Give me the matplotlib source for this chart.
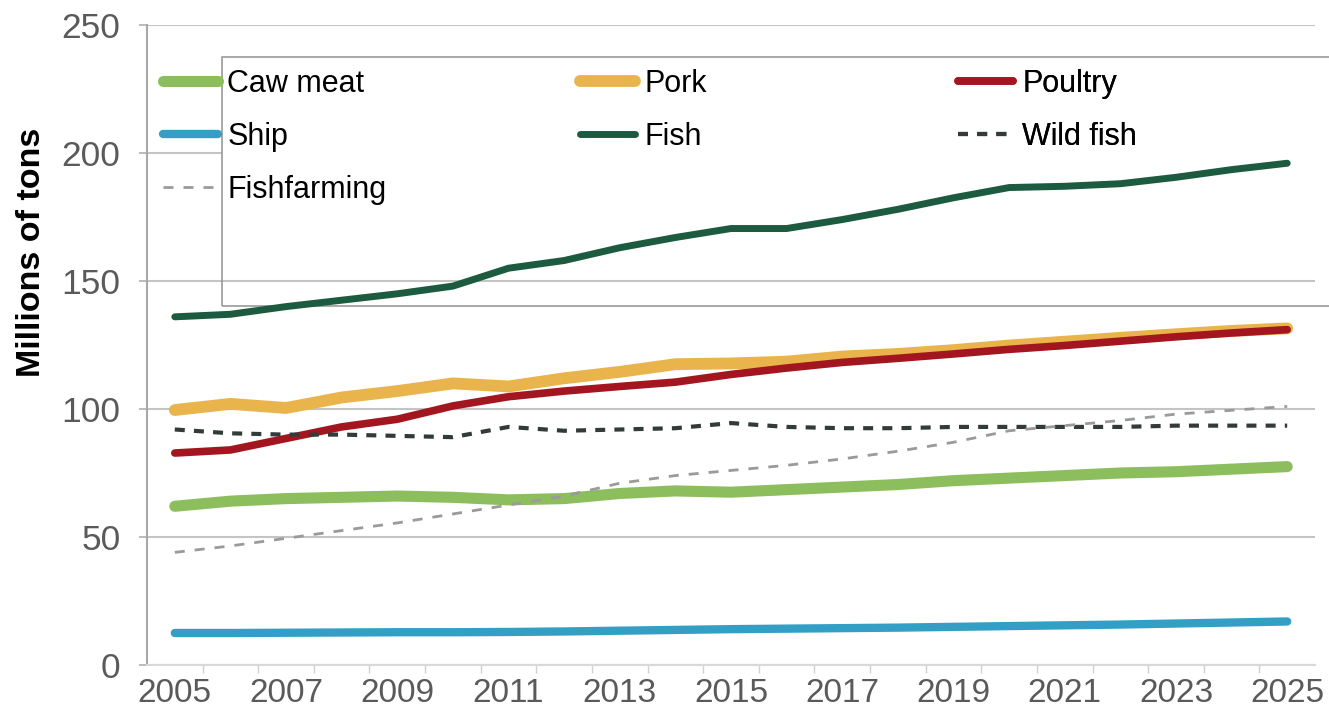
import matplotlib
matplotlib.use("Agg")
import matplotlib.pyplot as plt
from matplotlib.patches import Rectangle

years = list(range(2005, 2026))
cow_meat = [62, 64, 65, 65.5, 66, 65.5, 64.5, 65, 67, 68, 67.5, 68.5, 69.5, 70.5, 72, 73, 74, 75, 75.5, 76.5, 77.5]
pork = [99.6, 102, 100.4, 104.5, 107, 110, 108.8, 112, 114.5, 117.5, 117.8, 118.5, 120.5, 121.5, 123, 124.8, 126.3, 127.8, 129.2, 130.5, 131.5]
poultry = [82.8, 84, 88.5, 93, 96, 101.2, 104.8, 107, 108.8, 110.5, 113.5, 116, 118.2, 119.8, 121.5, 123.3, 124.8, 126.5, 128.2, 129.7, 131]
ship = [12.5, 12.5, 12.6, 12.7, 12.8, 12.8, 12.9, 13.1, 13.4, 13.7, 14.0, 14.2, 14.4, 14.6, 14.9, 15.2, 15.5, 15.8, 16.2, 16.6, 17.0]
fish = [136, 137, 140, 142.5, 145, 148, 155, 158, 163, 167, 170.5, 170.5, 174, 178, 182.5, 186.5, 187, 188, 190.5, 193.5, 196]
wild_fish = [92, 90.5, 90, 90, 89.5, 89, 93, 91.5, 92, 92.5, 94.5, 93, 92.5, 92.5, 93, 93, 93, 93, 93.5, 93.5, 93.5]
fish_farming = [44, 46.5, 49.5, 52.5, 55.5, 59, 62.5, 66, 71, 74, 76, 78, 80.5, 83.5, 87, 91.5, 93.5, 95.5, 98, 99.5, 101]

labels = ["Caw meat", "Pork", "Poultry", "Ship", "Fish", "Wild fish", "Fishfarming"]
y_ticks = [0, 50, 100, 150, 200, 250]
x_ticks = list(range(2005, 2026, 2))

W, H = 1329, 717
fig = plt.figure(figsize=(W / 100, H / 100), dpi=100)
ax = fig.add_axes([147 / W, 1 - 665 / H, 1168 / W, 640 / H])

font = "Liberation Sans"

lines = {}
lines["Caw meat"], = ax.plot(years, cow_meat, color="#8CBE5E", lw=8, solid_capstyle="round", zorder=2)
lines["Ship"], = ax.plot(years, ship, color="#349FC4", lw=6, solid_capstyle="round", zorder=2.1)
lines["Pork"], = ax.plot(years, pork, color="#E9B44C", lw=8.5, solid_capstyle="round", zorder=2.2)
lines["Poultry"], = ax.plot(years, poultry, color="#A3161F", lw=5.5, solid_capstyle="round", zorder=2.3)
lines["Fish"], = ax.plot(years, fish, color="#1C5B40", lw=5, solid_capstyle="round", zorder=2.4)
lines["Wild fish"], = ax.plot(years, wild_fish, color="#333a3a", lw=3, linestyle=(0, (2.4, 2.2)), zorder=2.5)
lines["Fishfarming"], = ax.plot(years, fish_farming, color="#9A9A9A", lw=2, linestyle=(0, (3.6, 3.6)), zorder=2.6)

ax.set_xlim(2004.5, 2025.5)
ax.set_ylim(0, 250)
ax.set_yticks(y_ticks)
ax.set_xticks(x_ticks)
ax.set_xticks([y + 0.5 for y in range(2005, 2025)], minor=True)
ax.grid(axis="y", color="#C4C4C4", lw=1.5)
ax.set_axisbelow(True)
for s in ["top", "right"]:
    ax.spines[s].set_visible(False)
ax.spines["left"].set_color("#A8A8A8")
ax.spines["left"].set_linewidth(1.5)
ax.spines["bottom"].set_color("#D8D8D8")
ax.spines["bottom"].set_linewidth(1.5)
ax.tick_params(axis="y", length=6, color="#B0B0B0", width=1.2, pad=13,
               labelsize=25.5, labelcolor="#5A5A5A")
ax.tick_params(axis="x", which="major", length=0, pad=9, labelsize=24, labelcolor="#5A5A5A")
ax.tick_params(axis="x", which="minor", length=6, color="#D0D0D0", width=1.0)
for lab in ax.get_xticklabels() + ax.get_yticklabels():
    lab.set_fontfamily(font)

ax.set_ylabel("Millions of tons", fontsize=24.5, fontweight="bold", family=font, color="black")
ax.yaxis.set_label_coords(-0.0855, 0.645)

# white text area and frame of the legend box
ax.add_patch(Rectangle((222 / W, 1 - 155 / H), (1329 - 222) / W, (155 - 57) / H,
                       transform=fig.transFigure, facecolor="white", edgecolor="none",
                       zorder=1, clip_on=False))
ax.add_patch(Rectangle((222 / W, 1 - 208 / H), (555 - 222) / W, (208 - 150) / H,
                       transform=fig.transFigure, facecolor="white", edgecolor="none",
                       zorder=1, clip_on=False))
ax.add_patch(Rectangle((222 / W, 1 - 306 / H), (1345 - 222) / W, (306 - 57) / H,
                       transform=fig.transFigure, facecolor="none", edgecolor="#9A9A9A",
                       lw=1.2, zorder=1.5, clip_on=False))

columns = [["Caw meat", "Ship", "Fishfarming"], ["Pork", "Fish"], ["Poultry", "Wild fish"]]
col_x = [163, 580, 958]
for names, cx in zip(columns, col_x):
    leg = ax.legend([lines[n] for n in names], names, loc="upper left",
                    bbox_to_anchor=(cx / W, 1 - 69 / H), bbox_transform=fig.transFigure,
                    frameon=False, borderpad=0, borderaxespad=0, handlelength=1.8,
                    handletextpad=0.3, labelspacing=0.75,
                    prop={"family": font, "size": 22})
    ax.add_artist(leg)

fig.savefig("out.png", dpi=100, facecolor="white")
